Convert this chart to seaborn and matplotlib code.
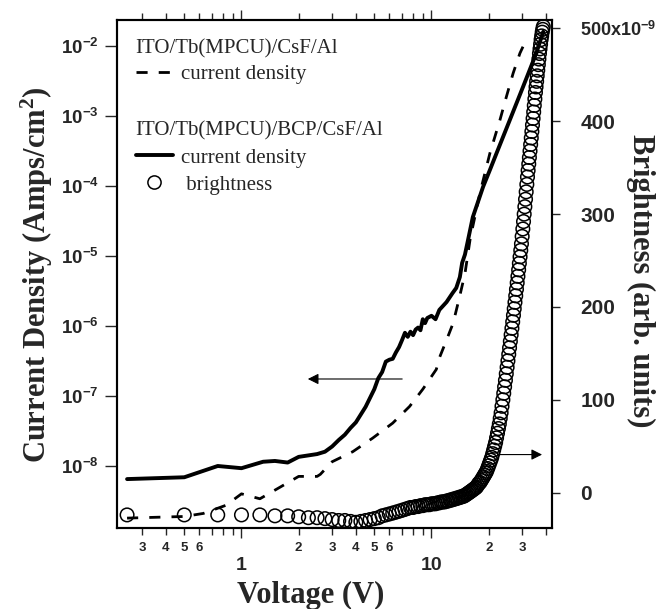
import math
import matplotlib
matplotlib.use("Agg")
import matplotlib.pyplot as plt
import seaborn as sns
from matplotlib.lines import Line2D
from matplotlib.ticker import FixedLocator, NullLocator, FuncFormatter

# voltage sweep used for the brightness scan (V)
volt = [
    0.25, 0.5, 0.75, 1.0, 1.25, 1.5, 1.75, 2.0, 2.25, 2.5, 2.75, 3.0, 3.25, 3.5, 3.75, 4.0,
    4.25, 4.5, 4.75, 5.0, 5.25, 5.5, 5.75, 6.0, 6.25, 6.5, 6.75, 7.0, 7.25, 7.5, 7.75, 8.0,
    8.25, 8.5, 8.75, 9.0, 9.25, 9.5, 9.75, 10.0, 10.25, 10.5, 10.75, 11.0, 11.25, 11.5, 11.75, 12.0,
    12.25, 12.5, 12.75, 13.0, 13.25, 13.5, 13.75, 14.0, 14.25, 14.5, 14.75, 15.0, 15.25, 15.5, 15.75, 16.0,
    16.25, 16.5, 16.75, 17.0, 17.25, 17.5, 17.75, 18.0, 18.25, 18.5, 18.75, 19.0, 19.25, 19.5, 19.75, 20.0,
    20.25, 20.5, 20.75, 21.0, 21.25, 21.5, 21.75, 22.0, 22.25, 22.5, 22.75, 23.0, 23.25, 23.5, 23.75, 24.0,
    24.25, 24.5, 24.75, 25.0, 25.25, 25.5, 25.75, 26.0, 26.25, 26.5, 26.75, 27.0, 27.25, 27.5, 27.75, 28.0,
    28.25, 28.5, 28.75, 29.0, 29.25, 29.5, 29.75, 30.0, 30.25, 30.5, 30.75, 31.0, 31.25, 31.5, 31.75, 32.0,
    32.25, 32.5, 32.75, 33.0, 33.25, 33.5, 33.75, 34.0, 34.25, 34.5, 34.75, 35.0, 35.25, 35.5, 35.75, 36.0,
    36.25, 36.5, 36.75, 37.0, 37.25, 37.5, 37.75, 38.0, 38.25, 38.5, 38.75,
]
# brightness (arb. units, x1e-9)
bright = [
    -24, -24, -24, -24, -24, -25, -25, -26, -27, -27, -28, -29, -30, -30, -31, -32,
    -31, -30, -29, -28, -27, -25, -24, -23, -22, -21, -20, -19, -18, -17, -16, -16,
    -15, -15, -14, -14, -13, -13, -13, -12, -12, -12, -11, -11, -10, -10, -10, -9,
    -9, -8, -8, -7, -7, -6, -6, -5, -5, -4, -4, -3, -2, -1, 0, 1,
    2, 3, 4, 5, 6, 8, 10, 11, 13, 15, 17, 19, 21, 23, 26, 29,
    32, 35, 38, 42, 46, 50, 54, 59, 64, 69, 74, 80, 86, 93, 100, 107,
    114, 121, 128, 135, 142, 149, 156, 163, 170, 177, 184, 191, 198, 205, 212, 219,
    226, 233, 240, 247, 254, 261, 268, 276, 284, 292, 300, 308, 316, 324, 332, 340,
    347, 354, 361, 368, 375, 382, 389, 396, 403, 410, 417, 424, 431, 437, 443, 449,
    455, 461, 467, 473, 478, 483, 488, 492, 496, 499, 502,
]

# ITO/Tb(MPCU)/BCP/CsF/Al current density
volt_bcp = [0.25, 0.5, 0.75, 1.0, 1.3, 1.5, 1.75, 2.0, 2.5, 2.75, 3.0, 3.25, 3.5, 3.75, 4.0,
            4.5, 5.0, 5.25, 5.5, 5.75, 6.0, 6.25, 6.5, 6.75, 7.0, 7.25, 7.5, 7.75, 8.0,
            8.25, 8.5, 8.75, 9.0, 9.25, 9.5, 10.0, 10.5, 11.0, 12.0, 12.9, 13.5, 14.1,
            14.5, 15.0, 15.5, 16.5, 18.7, 20.3, 22.0, 25.8, 30.3, 35.6, 38.7]
j_bcp = [6.5e-9, 6.9e-9, 1.0e-8, 9.3e-9, 1.15e-8, 1.18e-8, 1.12e-8, 1.35e-8, 1.48e-8, 1.6e-8,
         1.9e-8, 2.35e-8, 2.8e-8, 3.5e-8, 4.2e-8, 7.0e-8, 1.25e-7, 1.8e-7, 2.2e-7, 3.1e-7,
         3.3e-7, 3.4e-7, 4.2e-7, 5.0e-7, 6.3e-7, 8.0e-7, 7.0e-7, 8.3e-7, 7.4e-7, 8.9e-7,
         9.5e-7, 8.7e-7, 1.25e-6, 1.1e-6, 1.3e-6, 1.4e-6, 1.25e-6, 1.7e-6, 2.2e-6, 2.95e-6,
         3.5e-6, 5.0e-6, 8.0e-6, 1.05e-5, 1.6e-5, 3.6e-5, 9.8e-5, 1.7e-4, 2.95e-4, 8.7e-4,
         2.6e-3, 7.9e-3, 1.6e-2]

# ITO/Tb(MPCU)/CsF/Al current density
volt_csf = [0.25, 0.5, 0.63, 0.83, 1.0, 1.25, 1.6, 2.0, 2.5, 2.6, 3.0, 3.85, 4.9, 6.25, 7.67,
            9.0, 10.6, 11.0, 12.0, 13.0, 14.0, 15.0, 16.0, 18.0, 20.3, 22.9, 24.8, 26.9,
            29.2, 30.3]
j_csf = [1.8e-9, 1.9e-9, 2.1e-9, 2.75e-9, 4.0e-9, 3.4e-9, 5.0e-9, 7.1e-9, 7.1e-9, 7.6e-9,
         1.15e-8, 1.6e-8, 2.5e-8, 4.1e-8, 7.1e-8, 1.25e-7, 2.4e-7, 3.5e-7, 6.3e-7, 1.1e-6,
         2.5e-6, 5.6e-6, 1.8e-5, 8.0e-5, 2.95e-4, 8.7e-4, 1.9e-3, 4.1e-3, 7.9e-3, 9.8e-3]

xmajor = [1, 10]
xminor = [0.3, 0.4, 0.5, 0.6, 0.7, 0.8, 0.9, 2, 3, 4, 5, 6, 7, 8, 9, 20, 30, 40]
xminor_labels = ["3", "4", "5", "6", "", "", "", "2", "3", "4", "5", "6", "", "", "", "2", "3", ""]
jticks = [1e-8, 1e-7, 1e-6, 1e-5, 1e-4, 1e-3, 1e-2]
bticks = [0, 100, 200, 300, 400, 500]
blabels = ["0", "100", "200", "300", "400", r"500x10$^{\mathbf{-9}}$"]

# arrows: (x_start, x_end, y)
arrow_j = (7.25, 2.16, 1.75e-7)
arrow_b = (22.0, 39.5, 41)

sns.set_style("ticks")
plt.rcParams["font.family"] = ["Liberation Serif", "DejaVu Serif"]
plt.rcParams["mathtext.fontset"] = "custom"
plt.rcParams["mathtext.rm"] = "Liberation Serif:bold"
plt.rcParams["mathtext.bf"] = "Liberation Sans:bold"
plt.rcParams["mathtext.it"] = "Liberation Serif:bold"

fig = plt.figure(figsize=(6.68, 6.09), dpi=100)
ax = fig.add_axes([0.175, 0.133, 0.652, 0.834])
ax2 = ax.twinx()

sns.lineplot(x=volt_bcp, y=j_bcp, ax=ax, color="black", linewidth=2.8, sort=False,
             estimator=None)
sns.lineplot(x=volt_csf, y=j_csf, ax=ax, color="black", linewidth=2.0, sort=False,
             estimator=None, linestyle=(0, (4, 4)))
sns.scatterplot(x=volt, y=bright, ax=ax2, marker="o", s=95, facecolors="none",
                edgecolors="black", linewidth=1.1, zorder=3)

ax.set_xscale("log")
ax.set_yscale("log")
ax.set_xlim(0.221, 43.3)
ax.set_ylim(1.3e-9, 2.35e-2)
ax2.set_ylim(-38.1, 509)

tick_font = {"family": "Liberation Sans", "weight": "bold"}

ax.xaxis.set_major_locator(FixedLocator(xmajor))
ax.set_xticklabels(["1", "10"], fontdict=tick_font, fontsize=14)
ax.xaxis.set_minor_locator(FixedLocator(xminor))
ax.set_xticklabels(xminor_labels, minor=True, fontdict=tick_font, fontsize=9.5)
ax.tick_params(axis="x", which="major", direction="out", length=7, width=1,
               top=True, pad=14)
ax.tick_params(axis="x", which="minor", direction="out", length=5, width=1,
               top=True, pad=5)

ax.yaxis.set_major_locator(FixedLocator(jticks))
ax.yaxis.set_minor_locator(NullLocator())
ax.yaxis.set_major_formatter(FuncFormatter(
    lambda v, p: r"$\mathbf{10^{%d}}$" % round(math.log10(v))))
ax.tick_params(axis="y", which="major", direction="out", length=9, width=1,
               labelsize=13.5, pad=4)

ax2.set_yticks(bticks)
ax2.set_yticklabels(blabels, fontdict=tick_font, fontsize=15)
ax2.get_yticklabels()[-1].set_fontsize(13)
ax2.tick_params(axis="y", direction="out", length=6, width=1, pad=14)

for a in (ax, ax2):
    for s in a.spines.values():
        s.set_linewidth(1.5)
        s.set_color("black")

label_font = {"family": "Liberation Serif", "weight": "bold", "size": 22}
ax.set_xlabel("Voltage (V)", fontdict=label_font)
ax.xaxis.set_label_coords(0.445, -0.105)
ax.set_ylabel("Current Density (Amps/cm$^{2}$)", fontdict=label_font)
ax.yaxis.set_label_coords(-0.143, 0.498)
ax2.set_ylabel("Brightness (arb. units)", fontdict=label_font, rotation=270,
               va="bottom")
ax2.yaxis.set_label_coords(1.17, 0.486)

ax.annotate("", xy=(arrow_j[1], arrow_j[2]), xytext=(arrow_j[0], arrow_j[2]),
            arrowprops=dict(arrowstyle="-|>", color="black", lw=0.8,
                            mutation_scale=16))
ax2.annotate("", xy=(arrow_b[1], arrow_b[2]), xytext=(arrow_b[0], arrow_b[2]),
             arrowprops=dict(arrowstyle="-|>", color="black", lw=0.8,
                             mutation_scale=16))

leg_font = {"family": "Liberation Serif", "size": 15}
h_csf = Line2D([], [], color="black", lw=2.0, linestyle=(0, (4, 4)))
h_bcp = Line2D([], [], color="black", lw=2.8)
h_br = Line2D([], [], color="black", lw=0, marker="o", markersize=9.5,
              markerfacecolor="none", markeredgewidth=1.1)
leg1 = ax2.legend([h_csf], ["current density"], title="ITO/Tb(MPCU)/CsF/Al",
                  loc="upper left", bbox_to_anchor=(0.0, 1.0), frameon=False,
                  prop=leg_font, title_fontproperties=leg_font, alignment="left",
                  handlelength=1.8, handletextpad=0.4, borderaxespad=0.5,
                  labelspacing=0.3)
ax2.add_artist(leg1)
ax2.legend([h_bcp, h_br], ["current density", " brightness"],
           title="ITO/Tb(MPCU)/BCP/CsF/Al", loc="upper left",
           bbox_to_anchor=(0.0, 0.837), frameon=False, prop=leg_font,
           title_fontproperties=leg_font, alignment="left", handlelength=1.8,
           handletextpad=0.4, borderaxespad=0.5, labelspacing=0.35)

fig.savefig("out.png", dpi=100)
